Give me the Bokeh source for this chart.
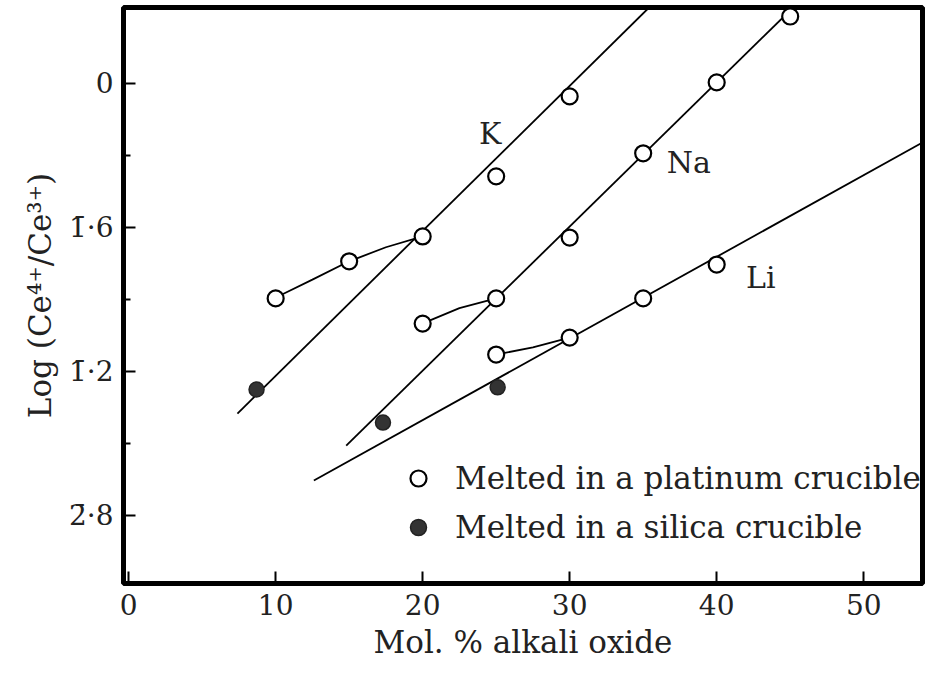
from bokeh.plotting import figure
from bokeh.models import Range1d, FixedTicker, Legend, LegendItem
from bokeh.core.properties import value
from bokeh.embed import file_html
from bokeh.resources import INLINE

# ---- data ----
K_x = [10, 15, 20, 25, 30]
K_y = [-0.597, -0.494, -0.425, -0.258, -0.036]
K_si_x = [8.7]
K_si_y = [-0.85]
K_line_x = [7.4, 35.4]
K_line_y = [-0.917, 0.211]
K_curve_x = [10.5, 12.5, 15, 17.5, 20]
K_curve_y = [-0.585, -0.545, -0.494, -0.455, -0.425]

Na_x = [20, 25, 30, 35, 40, 45]
Na_y = [-0.667, -0.597, -0.428, -0.194, 0.003, 0.186]
Na_si_x = [17.3]
Na_si_y = [-0.942]
Na_line_x = [14.8, 45.2]
Na_line_y = [-1.006, 0.211]
Na_curve_x = [20.5, 22.5, 25]
Na_curve_y = [-0.658, -0.624, -0.597]

Li_x = [25, 30, 35, 40]
Li_y = [-0.753, -0.706, -0.597, -0.503]
Li_si_x = [25.1]
Li_si_y = [-0.844]
Li_line_x = [12.6, 54.0]
Li_line_y = [-1.103, -0.164]
Li_curve_x = [25.5, 27.5, 30]
Li_curve_y = [-0.749, -0.733, -0.706]

series_names = ["K", "Na", "Li"]
name_x = [24.6, 38.1, 43.0]
name_y = [-0.14, -0.22, -0.54]

x_ticks = [0, 10, 20, 30, 40, 50]
y_ticks = [0, -0.4, -0.8, -1.2]
y_minor = [-0.2, -0.6, -1.0]
y_tick_labels = ["0", "1\u0304\u00b76", "1\u0304\u00b72", "2\u0304\u00b78"]

FONT = "DejaVu Serif"

p = figure(width=938, height=678, x_range=Range1d(-0.35, 54.0),
           y_range=Range1d(-1.389, 0.211), output_backend="svg",
           toolbar_location=None, min_border_left=123, min_border_right=16,
           min_border_top=7, min_border_bottom=95)
p.background_fill_color = "white"
p.border_fill_color = "white"
p.outline_line_color = "black"
p.outline_line_width = 5
p.grid.visible = False

p.xaxis.ticker = FixedTicker(ticks=x_ticks)
p.yaxis.ticker = FixedTicker(ticks=y_ticks, minor_ticks=y_minor)
p.yaxis.major_label_overrides = {t: l for t, l in zip(y_ticks, y_tick_labels)}
for ax in (p.xaxis[0], p.yaxis[0]):
    ax.axis_line_color = None
    ax.major_tick_in = 12
    ax.major_tick_out = 0
    ax.minor_tick_in = 7
    ax.minor_tick_out = 0
    ax.major_tick_line_width = 2
    ax.minor_tick_line_width = 2
    ax.major_label_text_font = FONT
    ax.major_label_text_font_size = "28px"
    ax.major_label_text_color = "#222222"
    ax.axis_label_text_font = FONT
    ax.axis_label_text_font_size = "31px"
    ax.axis_label_text_font_style = "normal"
    ax.axis_label_text_color = "#222222"
p.xaxis.minor_tick_line_color = None
p.xaxis.major_label_standoff = 10
p.yaxis.major_label_standoff = 10
p.xaxis.axis_label = "Mol. % alkali oxide"
p.yaxis.axis_label = "Log (Ce\u2074\u207a/Ce\u00b3\u207a)"
p.xaxis.axis_label_standoff = 6
p.yaxis.axis_label_standoff = 8

LW = 1.8
for lx, ly in [(K_line_x, K_line_y), (Na_line_x, Na_line_y), (Li_line_x, Li_line_y),
               (K_curve_x, K_curve_y), (Na_curve_x, Na_curve_y), (Li_curve_x, Li_curve_y)]:
    p.line(lx, ly, line_color="black", line_width=LW)

open_r = None
for xs, ys in [(K_x, K_y), (Na_x, Na_y), (Li_x, Li_y)]:
    r = p.scatter(xs, ys, marker="circle", size=16, fill_color="white",
                  line_color="black", line_width=2.2)
    open_r = open_r or r
fill_r = None
for xs, ys in [(K_si_x, K_si_y), (Na_si_x, Na_si_y), (Li_si_x, Li_si_y)]:
    r = p.scatter(xs, ys, marker="circle", size=15, fill_color="#333333",
                  line_color="#222222", line_width=1.5)
    fill_r = fill_r or r

p.text(name_x, name_y, text=series_names, text_font=value(FONT),
       text_font_size="30px", text_align="center", text_baseline="middle",
       text_color="#222222")

legend = Legend(items=[LegendItem(label="Melted in a platinum crucible", renderers=[open_r]),
                       LegendItem(label="Melted in a silica crucible", renderers=[fill_r])],
                location=(275, 36), orientation="vertical",
                glyph_width=40, glyph_height=40, label_height=40, spacing=9,
                padding=0, margin=0, label_standoff=17,
                border_line_color=None, background_fill_alpha=0,
                label_text_font=FONT, label_text_font_size="31px",
                label_text_color="#222222")
p.add_layout(legend)

open("out.html", "w").write(file_html(p, INLINE))
